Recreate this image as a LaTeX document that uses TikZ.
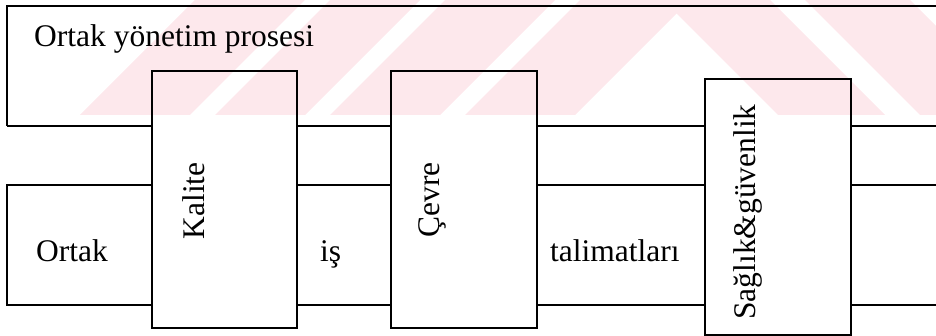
\documentclass[tikz,border=0pt]{standalone}
\usepackage{fontspec}
\setmainfont{Liberation Serif}
\definecolor{wmpink}{RGB}{253,232,236}
\begin{document}
\begin{tikzpicture}[x=1pt,y=-1pt,
  band/.style={line width=1.8pt},
  boxnode/.style={draw, line width=1.8pt, inner sep=0pt,
    minimum width=145pt, minimum height=257pt},
  txt/.style={font=\fontsize{31.5}{36}\selectfont, inner sep=0pt},
  vtxt/.style={txt, rotate=90},
  wm/.style={fill=wmpink, draw=none}]
\useasboundingbox (0,0) rectangle (936,336);

% faint background emblem: slanted stripes meeting in a peak
\begin{scope}
  \clip (0,0) rectangle (936,115);
  \foreach \a/\b in {80/190, 215/305, 330/440, 465/575}
    \fill[wm] (\a,115) -- (\b,115) -- (\b+115,0) -- (\a+115,0) -- cycle;
  \foreach \c/\d in {663/770, 805/910}
    \fill[wm] (\c,0) -- (\d,0) -- (\d+115,115) -- (\c+115,115) -- cycle;
\end{scope}

% vertical boxes crossing both bands
\node[boxnode] (kal) at (224.5,199.5) {};
\node[boxnode, minimum width=146pt] (cev) at (464,199.5) {};
\node[boxnode, minimum width=146pt, minimum height=256pt] (sag) at (778,207) {};

% band reference points
\coordinate (tbl) at (7,126);
\coordinate (tbt) at (7,6);
\coordinate (tbr) at (936,6);
\coordinate (tbe) at (936,126);
\coordinate (bbt) at (7,185);
\coordinate (bbb) at (7,305);
\coordinate (bbte) at (936,185);
\coordinate (bbbe) at (936,305);

% upper band
\draw[band] (tbl) -- (tbt) -- (tbr);
\draw[band] (tbl) -- (kal.west |- tbl);
\draw[band] (kal.east |- tbl) -- (cev.west |- tbl);
\draw[band] (cev.east |- tbl) -- (sag.west |- tbl);
\draw[band] (sag.east |- tbl) -- (tbe);

% lower band
\draw[band] (kal.west |- bbt) -- (bbt) -- (bbb) -- (kal.west |- bbb);
\draw[band] (kal.east |- bbt) -- (cev.west |- bbt);
\draw[band] (kal.east |- bbb) -- (cev.west |- bbb);
\draw[band] (cev.east |- bbt) -- (sag.west |- bbt);
\draw[band] (cev.east |- bbb) -- (sag.west |- bbb);
\draw[band] (sag.east |- bbt) -- (bbte);
\draw[band] (sag.east |- bbb) -- (bbbe);

% texts
\node[txt, anchor=base west] (title) at (34,47) {Ortak yönetim prosesi};
\node[txt, anchor=base west] (ortak) at (36,262) {Ortak};
\node[txt, anchor=base west] (is) at (320,262) {iş};
\node[txt, anchor=base west] (tal) at (550,262) {talimatları};
\node[vtxt] (kalt) at (193.5,201) {Kalite};
\node[vtxt] (cevt) at (432.5,200) {Çevre};
\node[vtxt] (sagt) at (747.5,212) {Sağlık\&güvenlik};
\end{tikzpicture}
\end{document}
